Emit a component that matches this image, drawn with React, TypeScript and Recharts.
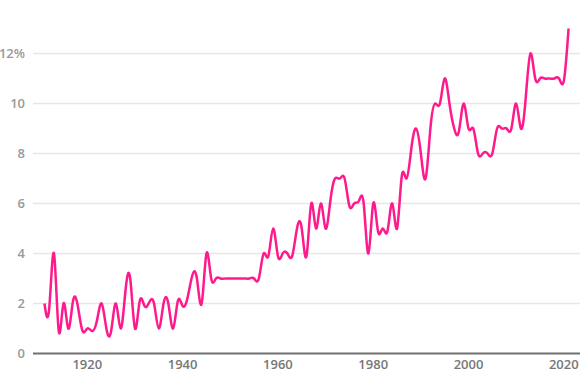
import React from 'react';
import { LineChart, Line, XAxis, YAxis, CartesianGrid } from 'recharts';

// years shown on the chart
const years = [
  1911, 1912, 1913, 1914, 1915, 1916, 1917, 1918, 1919, 1920,
  1921, 1922, 1923, 1924, 1925, 1926, 1927, 1928, 1929, 1930,
  1931, 1932, 1933, 1934, 1935, 1936, 1937, 1938, 1939, 1940,
  1941, 1942, 1943, 1944, 1945, 1946, 1947, 1948, 1949, 1950,
  1951, 1952, 1953, 1954, 1955, 1956, 1957, 1958, 1959, 1960,
  1961, 1962, 1963, 1964, 1965, 1966, 1967, 1968, 1969, 1970,
  1971, 1972, 1973, 1974, 1975, 1976, 1977, 1978, 1979, 1980,
  1981, 1982, 1983, 1984, 1985, 1986, 1987, 1988, 1989, 1990,
  1991, 1992, 1993, 1994, 1995, 1996, 1997, 1998, 1999, 2000,
  2001, 2002, 2003, 2004, 2005, 2006, 2007, 2008, 2009, 2010,
  2011, 2012, 2013, 2014, 2015, 2016, 2017, 2018, 2019, 2020,
  2021,
];

// percent values, one per year
const rates = [
  2, 1.8, 4, 0.9, 2, 1, 2.1, 1.9, 0.9, 1,
  0.9, 1.3, 2, 1, 0.9, 2, 1, 2.5, 3, 1,
  2.1, 1.9, 2.05, 2, 1, 2, 2, 1, 2.1, 1.9,
  2.2, 3.1, 3, 2, 4, 3, 3, 3, 3, 3,
  3, 3, 3, 3, 3, 3, 4, 3.9, 5, 3.9,
  4, 4, 3.9, 5, 5, 3.9, 6, 5, 6, 5,
  6.1, 7, 7, 7, 5.9, 6, 6.1, 6, 4, 6,
  4.9, 5, 4.9, 6, 5, 7.1, 7, 8.2, 9, 8,
  7, 9, 10, 10, 11, 10, 9, 8.9, 10, 9,
  9, 8, 8, 8, 8, 9, 9, 9, 9, 10,
  9, 10.2, 12, 11, 11, 11, 11, 11, 11, 10.9,
  13,
];

const xTicks = [1920, 1940, 1960, 1980, 2000, 2020];
const yTicks = [0, 2, 4, 6, 8, 10, 12];
const gridValues = [2, 4, 6, 8, 10, 12];

const data = years.map((year, i) => ({ year, rate: rates[i] }));

const font = '"Open Sans", "Noto Sans", sans-serif';

export default function App() {
  return (
    <div style={{ position: 'absolute', left: 0, top: 0, width: 582, height: 389, background: '#fff' }}>
      <LineChart
        width={582}
        height={389}
        data={data}
        margin={{ top: 3.5, right: 2, bottom: 5.5, left: 0 }}
      >
        <CartesianGrid vertical={false} stroke="#e6e6e6" strokeWidth={1.5} horizontalValues={gridValues} />
        <XAxis
          dataKey="year"
          type="number"
          domain={[1908.6, 2023.4]}
          ticks={xTicks}
          height={30}
          axisLine={{ stroke: '#707070', strokeWidth: 2 }}
          tickLine={false}
          tickSize={4}
          tick={{ fill: '#777', fontSize: 13, fontWeight: 600, fontFamily: font }}
        />
        <YAxis
          type="number"
          domain={[0, 14]}
          ticks={yTicks}
          width={33}
          axisLine={false}
          tickLine={false}
          tick={{ fill: '#999', fontSize: 13, fontWeight: 600, fontFamily: font }}
          tickFormatter={(v: number) => (v === 12 ? '12%' : String(v))}
        />
        <Line
          type="natural"
          dataKey="rate"
          stroke="#ff1a8c"
          strokeWidth={2.5}
          dot={false}
          isAnimationActive={false}
        />
      </LineChart>
    </div>
  );
}
